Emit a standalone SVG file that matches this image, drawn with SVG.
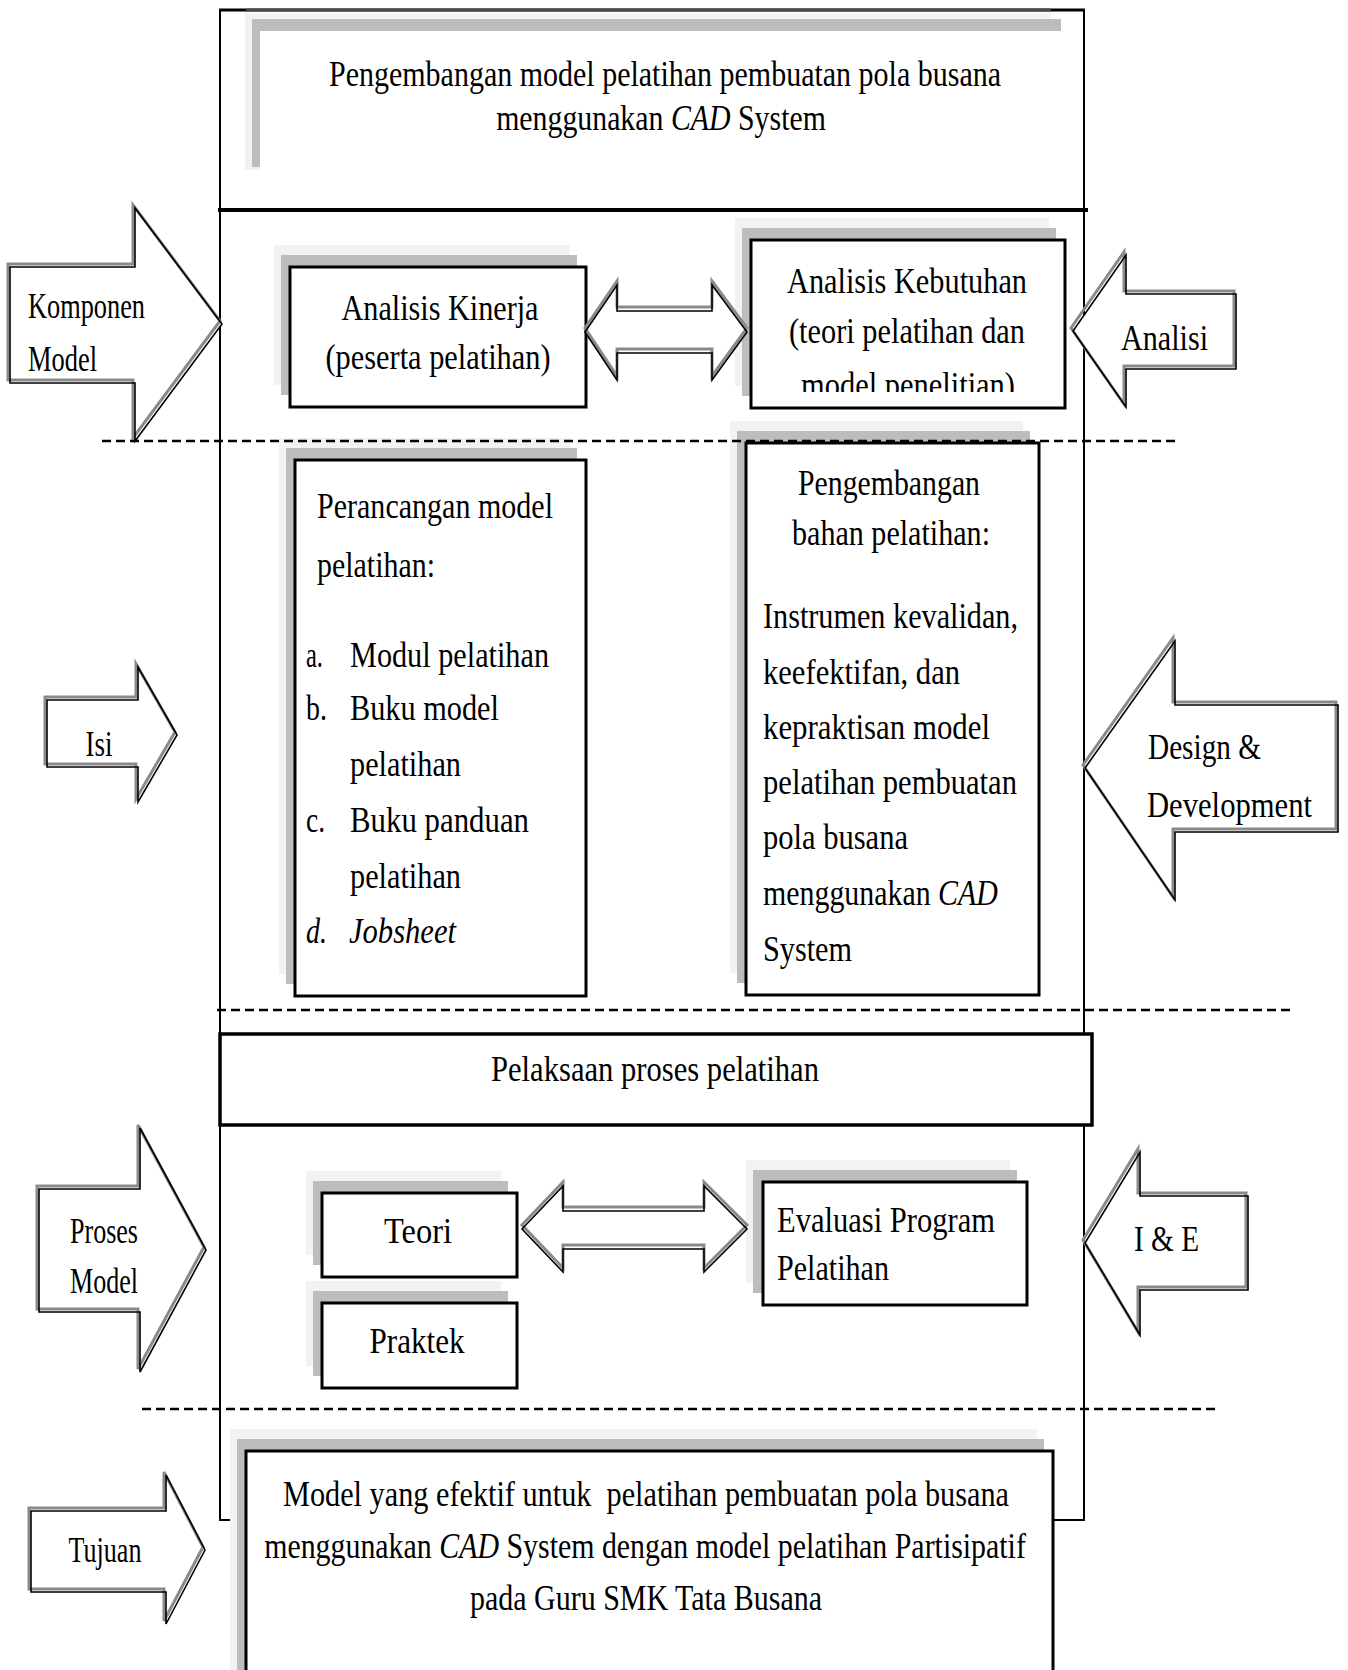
<svg xmlns="http://www.w3.org/2000/svg" width="1348" height="1670" viewBox="0 0 1348 1670">
<style>
.t{font-family:"Liberation Serif","Times New Roman",serif;font-size:36px;fill:#000}
.m{text-anchor:middle}
.i{font-style:italic}
.box{fill:#fff;stroke:#000;stroke-width:3}
.s1{fill:#f2f2f2}
.s2{fill:#bdbdbd}
.arw{fill:#fff;stroke:none}
.arwsh{fill:none;stroke:#8a8a8a;stroke-width:3;stroke-linejoin:miter}
.arwln{fill:none;stroke:#000;stroke-width:1.6;stroke-linejoin:miter}
.sep{stroke:#000;stroke-width:2.5;stroke-dasharray:9 5;fill:none}
</style>
<defs>
<clipPath id="clipKeb"><rect x="751" y="240" width="314" height="152"/></clipPath>
</defs>
<rect width="1348" height="1670" fill="#fff"/>

<g id="frame">
<rect x="220" y="10" width="864" height="1510" fill="none" stroke="#000" stroke-width="2"/>
<line x1="219" y1="10" x2="1085" y2="10" stroke="#000" stroke-width="3"/>
<line x1="246" y1="10" x2="1051" y2="10" stroke="#4a4a4a" stroke-width="3"/>
<line x1="218" y1="210" x2="1088" y2="210" stroke="#000" stroke-width="4"/>
</g>

<g id="title">
<rect x="245" y="13" width="806" height="157" class="s1"/>
<rect x="252" y="19" width="809" height="148" class="s2"/>
<rect x="260" y="31" width="820" height="170" fill="#fff"/>
<text class="t m" x="665" y="86" textLength="672" lengthAdjust="spacingAndGlyphs">Pengembangan model pelatihan pembuatan pola busana</text>
<text class="t m" transform="translate(661,130) scale(0.829,1)" x="0" y="0">menggunakan <tspan class="i">CAD</tspan> System</text>
</g>

<g id="arrow-komponen">
<polygon class="arw" points="10,267 135,267 135,208 222,324 135,441 135,383 10,383"/>
<polygon class="arwsh" transform="translate(-2,-3)" points="10,267 135,267 135,208 222,324 135,441 135,383 10,383"/>
<polygon class="arwln" points="10,267 135,267 135,208 222,324 135,441 135,383 10,383"/>
<text class="t" x="28" y="318" textLength="117" lengthAdjust="spacingAndGlyphs">Komponen</text>
<text class="t" x="28" y="371" textLength="69" lengthAdjust="spacingAndGlyphs">Model</text>
</g>

<g id="analisis-kinerja">
<rect x="274" y="245" width="296" height="140" class="s1"/>
<rect x="281" y="255" width="296" height="140" class="s2"/>
<rect x="290" y="267" width="296" height="140" class="box"/>
<text class="t m" x="440" y="320" textLength="197" lengthAdjust="spacingAndGlyphs">Analisis Kinerja</text>
<text class="t m" x="438" y="369" textLength="225" lengthAdjust="spacingAndGlyphs">(peserta pelatihan)</text>
</g>

<g id="analisis-kebutuhan">
<rect x="735" y="218" width="314" height="168" class="s1"/>
<rect x="742" y="228" width="314" height="168" class="s2"/>
<rect x="751" y="240" width="314" height="168" class="box"/>
<text class="t m" x="907" y="293" textLength="240" lengthAdjust="spacingAndGlyphs">Analisis Kebutuhan</text>
<text class="t m" x="907" y="343" textLength="236" lengthAdjust="spacingAndGlyphs">(teori pelatihan dan</text>
<g clip-path="url(#clipKeb)"><text class="t m" x="908" y="397" textLength="214" lengthAdjust="spacingAndGlyphs">model penelitian)</text></g>
</g>

<g id="arrow-analisi">
<polygon class="arw" points="1073,331 1126,255 1126,294 1236,294 1236,369 1126,369 1126,407"/>
<polygon class="arwsh" transform="translate(-2,-3)" points="1073,331 1126,255 1126,294 1236,294 1236,369 1126,369 1126,407"/>
<polygon class="arwln" points="1073,331 1126,255 1126,294 1236,294 1236,369 1126,369 1126,407"/>
<text class="t" x="1121" y="350" textLength="87" lengthAdjust="spacingAndGlyphs">Analisi</text>
</g>

<g id="perancangan">
<rect x="279" y="438" width="291" height="536" class="s1"/>
<rect x="286" y="448" width="291" height="536" class="s2"/>
<rect x="295" y="460" width="291" height="536" class="box"/>
<text class="t" x="317" y="518" textLength="236" lengthAdjust="spacingAndGlyphs">Perancangan model</text>
<text class="t" x="317" y="577" textLength="118" lengthAdjust="spacingAndGlyphs">pelatihan:</text>
<text class="t" x="306" y="667" textLength="17" lengthAdjust="spacingAndGlyphs">a.</text>
<text class="t" x="350" y="667" textLength="199" lengthAdjust="spacingAndGlyphs">Modul pelatihan</text>
<text class="t" x="306" y="720" textLength="21" lengthAdjust="spacingAndGlyphs">b.</text>
<text class="t" x="350" y="720" textLength="149" lengthAdjust="spacingAndGlyphs">Buku model</text>
<text class="t" x="350" y="776" textLength="111" lengthAdjust="spacingAndGlyphs">pelatihan</text>
<text class="t" x="306" y="832" textLength="19" lengthAdjust="spacingAndGlyphs">c.</text>
<text class="t" x="350" y="832" textLength="179" lengthAdjust="spacingAndGlyphs">Buku panduan</text>
<text class="t" x="350" y="888" textLength="111" lengthAdjust="spacingAndGlyphs">pelatihan</text>
<text class="t i" x="306" y="943" textLength="21" lengthAdjust="spacingAndGlyphs">d.</text>
<text class="t i" x="349" y="943" textLength="107" lengthAdjust="spacingAndGlyphs">Jobsheet</text>
</g>

<g id="pengembangan-bahan">
<rect x="730" y="421" width="293" height="552" class="s1"/>
<rect x="737" y="431" width="293" height="552" class="s2"/>
<rect x="746" y="443" width="293" height="552" class="box"/>
<text class="t m" x="889" y="495" textLength="182" lengthAdjust="spacingAndGlyphs">Pengembangan</text>
<text class="t m" x="891" y="545" textLength="198" lengthAdjust="spacingAndGlyphs">bahan pelatihan:</text>
<text class="t" x="763" y="628" textLength="255" lengthAdjust="spacingAndGlyphs">Instrumen kevalidan,</text>
<text class="t" x="763" y="684" textLength="197" lengthAdjust="spacingAndGlyphs">keefektifan, dan</text>
<text class="t" x="763" y="739" textLength="227" lengthAdjust="spacingAndGlyphs">kepraktisan model</text>
<text class="t" x="763" y="794" textLength="254" lengthAdjust="spacingAndGlyphs">pelatihan pembuatan</text>
<text class="t" x="763" y="849" textLength="145" lengthAdjust="spacingAndGlyphs">pola busana</text>
<text class="t" transform="translate(763,905) scale(0.83,1)" x="0" y="0">menggunakan <tspan class="i">CAD</tspan></text>
<text class="t" x="763" y="961" textLength="89" lengthAdjust="spacingAndGlyphs">System</text>
</g>

<g id="arrow-isi">
<polygon class="arw" points="47,700 138,700 138,667 177,735 138,802 138,767 47,767"/>
<polygon class="arwsh" transform="translate(-2,-3)" points="47,700 138,700 138,667 177,735 138,802 138,767 47,767"/>
<polygon class="arwln" points="47,700 138,700 138,667 177,735 138,802 138,767 47,767"/>
<text class="t m" x="99" y="756" textLength="27" lengthAdjust="spacingAndGlyphs">Isi</text>
</g>

<g id="arrow-design">
<polygon class="arw" points="1085,768 1175,641 1175,705 1338,705 1338,832 1175,832 1175,900"/>
<polygon class="arwsh" transform="translate(-2,-3)" points="1085,768 1175,641 1175,705 1338,705 1338,832 1175,832 1175,900"/>
<polygon class="arwln" points="1085,768 1175,641 1175,705 1338,705 1338,832 1175,832 1175,900"/>
<text class="t" x="1148" y="759" textLength="113" lengthAdjust="spacingAndGlyphs">Design &amp;</text>
<text class="t" x="1147" y="817" textLength="165" lengthAdjust="spacingAndGlyphs">Development</text>
</g>

<g id="pelaksaan">
<rect x="220" y="1034" width="872" height="91" fill="#fff" stroke="#000" stroke-width="3.5"/>
<text class="t m" x="655" y="1081" textLength="328" lengthAdjust="spacingAndGlyphs">Pelaksaan proses pelatihan</text>
</g>

<g id="arrow-proses">
<polygon class="arw" points="39,1189 140,1189 140,1128 206,1250 140,1372 140,1312 39,1312"/>
<polygon class="arwsh" transform="translate(-2,-3)" points="39,1189 140,1189 140,1128 206,1250 140,1372 140,1312 39,1312"/>
<polygon class="arwln" points="39,1189 140,1189 140,1128 206,1250 140,1372 140,1312 39,1312"/>
<text class="t" x="70" y="1243" textLength="68" lengthAdjust="spacingAndGlyphs">Proses</text>
<text class="t" x="70" y="1293" textLength="68" lengthAdjust="spacingAndGlyphs">Model</text>
</g>

<g id="teori">
<rect x="306" y="1171" width="195" height="84" class="s1"/>
<rect x="313" y="1181" width="195" height="84" class="s2"/>
<rect x="322" y="1193" width="195" height="84" class="box"/>
<text class="t m" x="418" y="1243" textLength="68" lengthAdjust="spacingAndGlyphs">Teori</text>
</g>

<g id="praktek">
<rect x="306" y="1281" width="195" height="85" class="s1"/>
<rect x="313" y="1291" width="195" height="85" class="s2"/>
<rect x="322" y="1303" width="195" height="85" class="box"/>
<text class="t m" x="417" y="1353" textLength="95" lengthAdjust="spacingAndGlyphs">Praktek</text>
</g>

<g id="evaluasi">
<rect x="746" y="1160" width="264" height="123" class="s1"/>
<rect x="753" y="1170" width="264" height="123" class="s2"/>
<rect x="763" y="1182" width="264" height="123" class="box"/>
<text class="t" x="777" y="1232" textLength="218" lengthAdjust="spacingAndGlyphs">Evaluasi Program</text>
<text class="t" x="777" y="1280" textLength="112" lengthAdjust="spacingAndGlyphs">Pelatihan</text>
</g>

<g id="arrow-ie">
<polygon class="arw" points="1085,1243 1140,1152 1140,1196 1248,1196 1248,1290 1140,1290 1140,1335"/>
<polygon class="arwsh" transform="translate(-2,-3)" points="1085,1243 1140,1152 1140,1196 1248,1196 1248,1290 1140,1290 1140,1335"/>
<polygon class="arwln" points="1085,1243 1140,1152 1140,1196 1248,1196 1248,1290 1140,1290 1140,1335"/>
<text class="t" x="1134" y="1251" textLength="65" lengthAdjust="spacingAndGlyphs">I &amp; E</text>
</g>

<g id="arrow-tujuan">
<polygon class="arw" points="31,1511 166,1511 166,1475 205,1550 166,1624 166,1592 31,1592"/>
<polygon class="arwsh" transform="translate(-2,-3)" points="31,1511 166,1511 166,1475 205,1550 166,1624 166,1592 31,1592"/>
<polygon class="arwln" points="31,1511 166,1511 166,1475 205,1550 166,1624 166,1592 31,1592"/>
<text class="t m" x="105" y="1562" textLength="73" lengthAdjust="spacingAndGlyphs">Tujuan</text>
</g>

<g id="tujuan-box">
<rect x="230" y="1429" width="807" height="260" class="s1"/>
<rect x="237" y="1439" width="807" height="260" class="s2"/>
<rect x="246" y="1451" width="807" height="240" class="box"/>
<text class="t m" x="646" y="1506" textLength="726" lengthAdjust="spacingAndGlyphs" xml:space="preserve">Model yang efektif untuk  pelatihan pembuatan pola busana</text>
<text class="t m" transform="translate(645,1558) scale(0.83,1)" x="0" y="0">menggunakan <tspan class="i">CAD</tspan> System dengan model pelatihan Partisipatif</text>
<text class="t m" x="646" y="1610" textLength="352" lengthAdjust="spacingAndGlyphs">pada Guru SMK Tata Busana</text>
</g>

<g id="connectors">
<g id="double-arrow-1">
<polygon class="arw" points="585,332 617,285 617,311 712,311 712,285 747,332 712,380 712,353 617,353 617,380"/>
<polygon class="arwsh" transform="translate(0,-4)" points="585,332 617,285 617,311 712,311 712,285 747,332 712,380 712,353 617,353 617,380"/>
<polygon class="arwln" points="585,332 617,285 617,311 712,311 712,285 747,332 712,380 712,353 617,353 617,380"/>
</g>
<g id="double-arrow-2">
<polygon class="arw" points="522,1229 563,1186 563,1211 704,1211 704,1186 747,1229 704,1272 704,1249 563,1249 563,1272"/>
<polygon class="arwsh" transform="translate(0,-4)" points="522,1229 563,1186 563,1211 704,1211 704,1186 747,1229 704,1272 704,1249 563,1249 563,1272"/>
<polygon class="arwln" points="522,1229 563,1186 563,1211 704,1211 704,1186 747,1229 704,1272 704,1249 563,1249 563,1272"/>
</g>
<line class="sep" x1="102" y1="441" x2="1177" y2="441"/>
<line class="sep" x1="217" y1="1010" x2="1294" y2="1010"/>
<line class="sep" x1="142" y1="1409" x2="1219" y2="1409"/>
</g>
</svg>
